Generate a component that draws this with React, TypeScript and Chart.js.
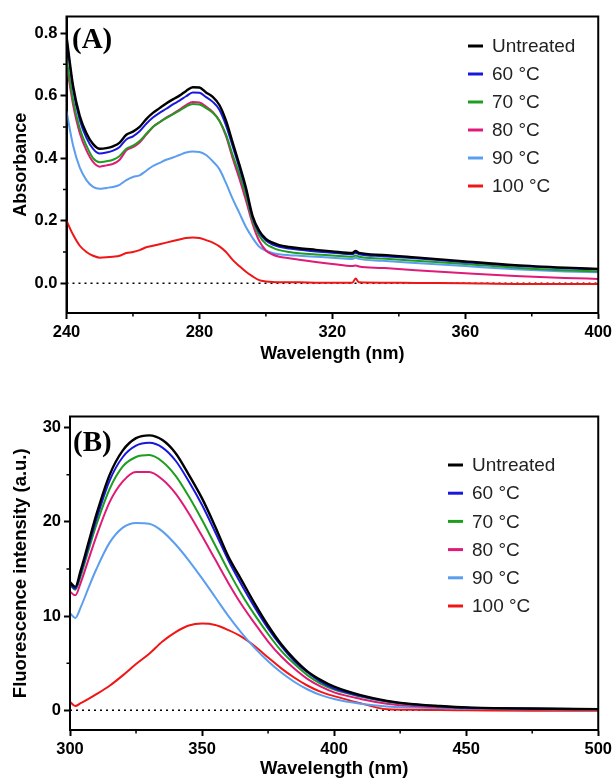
import React, { useEffect, useRef } from "react";
import { Chart, registerables } from "chart.js";
Chart.register(...registerables);

// ---------- shared series info ----------
const seriesNames = ["Untreated", "60 °C", "70 °C", "80 °C", "90 °C", "100 °C"];
const seriesColors = ["#000000", "#1818dc", "#1e9e1e", "#e01a78", "#5b9ef0", "#f01616"];

// ---------- Panel A: absorbance ----------
const wavelengthA = [240, 242, 244, 246, 248, 250, 252, 254, 256, 258, 260, 262, 264, 266, 268, 270, 272, 274, 276, 278, 280, 282, 284, 286, 288, 290, 292, 294, 296, 298, 300, 302, 304, 307, 310, 315, 320, 326, 327, 328, 335, 345, 360, 375, 390, 400];
const untreatedA = [0.79, 0.63, 0.535, 0.48, 0.445, 0.43, 0.432, 0.438, 0.45, 0.475, 0.485, 0.5, 0.525, 0.545, 0.56, 0.575, 0.588, 0.6, 0.615, 0.627, 0.626, 0.61, 0.596, 0.57, 0.52, 0.45, 0.38, 0.305, 0.215, 0.168, 0.142, 0.13, 0.122, 0.116, 0.112, 0.107, 0.102, 0.097, 0.103, 0.097, 0.091, 0.083, 0.07, 0.058, 0.05, 0.046];
const t60A = [0.78, 0.62, 0.522, 0.465, 0.43, 0.415, 0.418, 0.424, 0.436, 0.46, 0.47, 0.486, 0.51, 0.53, 0.545, 0.558, 0.572, 0.584, 0.598, 0.61, 0.609, 0.595, 0.58, 0.555, 0.505, 0.438, 0.37, 0.298, 0.21, 0.162, 0.137, 0.124, 0.117, 0.111, 0.107, 0.102, 0.098, 0.093, 0.098, 0.093, 0.087, 0.08, 0.067, 0.056, 0.048, 0.044];
const t70A = [0.72, 0.585, 0.495, 0.44, 0.4, 0.387, 0.39, 0.395, 0.407, 0.43, 0.44, 0.455, 0.478, 0.5, 0.515, 0.528, 0.54, 0.552, 0.565, 0.573, 0.572, 0.56, 0.545, 0.52, 0.475, 0.41, 0.35, 0.28, 0.2, 0.152, 0.126, 0.114, 0.106, 0.1, 0.096, 0.092, 0.089, 0.085, 0.089, 0.085, 0.079, 0.072, 0.062, 0.05, 0.042, 0.038];
const t80A = [0.7, 0.57, 0.48, 0.425, 0.388, 0.373, 0.377, 0.382, 0.395, 0.425, 0.435, 0.45, 0.475, 0.5, 0.515, 0.53, 0.542, 0.555, 0.57, 0.58, 0.578, 0.565, 0.548, 0.52, 0.47, 0.4, 0.335, 0.265, 0.19, 0.135, 0.105, 0.092, 0.085, 0.08, 0.075, 0.068, 0.062, 0.055, 0.057, 0.054, 0.049, 0.042, 0.032, 0.023, 0.017, 0.014];
const t90A = [0.55, 0.44, 0.37, 0.33, 0.308, 0.302, 0.305, 0.308, 0.315, 0.33, 0.34, 0.345, 0.36, 0.375, 0.385, 0.395, 0.402, 0.41, 0.418, 0.421, 0.42, 0.41, 0.39, 0.365, 0.32, 0.27, 0.225, 0.18, 0.145, 0.117, 0.104, 0.097, 0.093, 0.09, 0.088, 0.085, 0.082, 0.078, 0.082, 0.078, 0.072, 0.065, 0.055, 0.045, 0.038, 0.035];
const t100A = [0.2, 0.155, 0.12, 0.1, 0.088, 0.082, 0.083, 0.085, 0.088, 0.097, 0.1, 0.106, 0.115, 0.12, 0.125, 0.13, 0.135, 0.14, 0.145, 0.146, 0.145, 0.138, 0.13, 0.118, 0.1, 0.075, 0.055, 0.037, 0.022, 0.01, 0.006, 0.004, 0.003, 0.003, 0.003, 0.002, 0.002, 0.002, 0.015, 0.003, 0.002, 0.001, 0.0, -0.002, -0.002, -0.002];
const xTicksA = [240, 280, 320, 360, 400];
const xMinorA = [260, 300, 340, 380];
const yTicksA = [0, 0.2, 0.4, 0.6, 0.8];
const yMinorA = [0.1, 0.3, 0.5, 0.7];

// ---------- Panel B: fluorescence ----------
const wavelengthB = [300, 302, 304, 307, 310, 315, 320, 325, 330, 335, 340, 345, 350, 355, 360, 365, 370, 375, 380, 385, 390, 395, 400, 410, 420, 430, 440, 450, 475, 500];
const untreatedB = [13.6, 13.1, 14.8, 17.8, 20.8, 25.0, 27.6, 28.9, 29.2, 28.7, 27.3, 25.0, 22.5, 19.5, 16.3, 13.8, 11.3, 9.0, 7.0, 5.4, 4.1, 3.2, 2.5, 1.6, 1.0, 0.65, 0.45, 0.3, 0.18, 0.12];
const t60B = [13.4, 12.9, 14.5, 17.4, 20.3, 24.4, 26.9, 28.1, 28.4, 27.9, 26.5, 24.3, 21.8, 18.9, 15.9, 13.3, 10.9, 8.7, 6.8, 5.2, 4.0, 3.0, 2.3, 1.5, 0.95, 0.6, 0.42, 0.28, 0.17, 0.12];
const t70B = [13.3, 12.8, 14.2, 17.0, 19.7, 23.5, 25.9, 26.9, 27.1, 26.4, 24.9, 22.7, 20.2, 17.5, 14.8, 12.3, 10.1, 8.1, 6.3, 4.9, 3.7, 2.8, 2.2, 1.45, 0.9, 0.58, 0.4, 0.27, 0.16, 0.1];
const t80B = [12.6, 12.2, 13.5, 16.0, 18.5, 22.1, 24.3, 25.3, 25.3, 24.5, 23.0, 20.9, 18.5, 16.0, 13.5, 11.2, 9.2, 7.3, 5.7, 4.4, 3.3, 2.5, 1.9, 1.2, 0.7, 0.45, 0.32, 0.22, 0.14, 0.08];
const t90B = [10.3, 9.8, 10.9, 13.0, 15.0, 17.8, 19.4, 19.9, 19.8, 19.0, 17.6, 15.9, 14.0, 12.0, 10.0, 8.2, 6.6, 5.2, 4.0, 3.0, 2.2, 1.6, 1.2, 0.7, 0.4, 0.28, 0.2, 0.15, 0.1, 0.06];
const t100B = [0.9, 0.45, 0.75, 1.2, 1.7, 2.6, 3.7, 4.9, 6.0, 7.3, 8.3, 9.0, 9.2, 9.05, 8.5, 7.8, 6.8, 5.6, 4.45, 3.45, 2.6, 1.95, 1.5, 0.75, 0.1, 0.05, 0.02, 0.0, -0.05, -0.05];
const xTicksB = [300, 350, 400, 450, 500];
const xMinorB = [325, 375, 425, 475];
const yTicksB = [0, 10, 20, 30];
const yMinorB = [5, 15, 25];

const SANS = "'Liberation Sans', Arial, Helvetica, sans-serif";

type PanelCfg = {
  width: number;
  height: number;
  wl: number[];
  series: number[][];
  xMin: number; xMax: number; yMin: number; yMax: number;
  xTicks: number[]; xMinor: number[]; yTicks: number[]; yMinor: number[];
  yDecimals: number;
  yTitle: string;
  padding: { top: number; right: number; bottom: number; left: number };
  yWidth: number; xHeight: number;
  titleSize: number; tickSize: number;
  legendX: number; legendY: number; legendStep: number;
  label: string; labelX: number; labelY: number;
};

function makeChart(canvas: HTMLCanvasElement, c: PanelCfg) {
  const datasets: any[] = c.series.map((arr, i) => ({
    label: seriesNames[i],
    data: c.wl.map((x, k) => ({ x, y: arr[k] })),
    borderColor: seriesColors[i],
    backgroundColor: seriesColors[i],
    borderWidth: i === 0 ? 2.4 : 2,
    pointRadius: 0,
    cubicInterpolationMode: "monotone",
    fill: false,
    order: 1,
  }));
  datasets.push({
    label: "__zero",
    data: [{ x: c.xMin, y: 0 }, { x: c.xMax, y: 0 }],
    borderColor: "#000",
    borderWidth: 1.6,
    borderDash: [2, 4],
    pointRadius: 0,
    fill: false,
    order: 10,
  });

  const decor = {
    id: "decor",
    afterDraw(chart: any) {
      const { ctx, chartArea } = chart;
      const xs = chart.scales.x;
      const ys = chart.scales.y;
      ctx.save();
      // frame
      ctx.strokeStyle = "#000";
      ctx.lineWidth = 2;
      ctx.strokeRect(chartArea.left, chartArea.top, chartArea.right - chartArea.left, chartArea.bottom - chartArea.top);
      // minor ticks
      ctx.lineWidth = 1.5;
      ctx.beginPath();
      c.xMinor.forEach((v) => {
        const px = xs.getPixelForValue(v);
        ctx.moveTo(px, chartArea.bottom);
        ctx.lineTo(px, chartArea.bottom + 3.5);
      });
      c.yMinor.forEach((v) => {
        const py = ys.getPixelForValue(v);
        ctx.moveTo(chartArea.left, py);
        ctx.lineTo(chartArea.left - 3.5, py);
      });
      ctx.stroke();
      // legend
      ctx.font = `19px ${SANS}`;
      ctx.textBaseline = "middle";
      ctx.textAlign = "left";
      chart.data.datasets.forEach((ds: any, i: number) => {
        if (ds.label === "__zero") return;
        const y = c.legendY + i * c.legendStep;
        ctx.strokeStyle = ds.borderColor;
        ctx.lineWidth = 3;
        ctx.beginPath();
        ctx.moveTo(c.legendX, y);
        ctx.lineTo(c.legendX + 15, y);
        ctx.stroke();
        ctx.fillStyle = "#222";
        ctx.fillText(ds.label, c.legendX + 24, y + 1);
      });
      // panel label
      ctx.font = `bold 29px 'Liberation Serif', 'Times New Roman', serif`;
      ctx.fillStyle = "#000";
      ctx.textBaseline = "alphabetic";
      ctx.fillText(c.label, c.labelX, c.labelY);
      ctx.restore();
    },
  };

  return new Chart(canvas, {
    type: "line",
    data: { datasets },
    options: {
      responsive: false,
      animation: false,
      layout: { padding: c.padding },
      plugins: { legend: { display: false }, tooltip: { enabled: false } },
      scales: {
        x: {
          type: "linear",
          min: c.xMin,
          max: c.xMax,
          afterBuildTicks: (s: any) => { s.ticks = c.xTicks.map((v) => ({ value: v })); },
          afterFit: (s: any) => { s.height = c.xHeight; },
          border: { display: true, color: "#000", width: 2 },
          grid: { display: true, drawOnChartArea: false, drawTicks: true, tickLength: 6, color: "#000", tickWidth: 2 },
          ticks: {
            color: "#000",
            padding: 4,
            maxRotation: 0,
            font: { family: SANS, size: c.tickSize, weight: "bold" },
            callback: (v: any) => String(v),
          },
          title: {
            display: true,
            text: "Wavelength (nm)",
            color: "#000",
            padding: 0,
            font: { family: SANS, size: c.titleSize, weight: "bold" },
          },
        },
        y: {
          type: "linear",
          min: c.yMin,
          max: c.yMax,
          afterBuildTicks: (s: any) => { s.ticks = c.yTicks.map((v) => ({ value: v })); },
          afterFit: (s: any) => { s.width = c.yWidth; },
          border: { display: true, color: "#000", width: 2 },
          grid: { display: true, drawOnChartArea: false, drawTicks: true, tickLength: 6, color: "#000", tickWidth: 2 },
          ticks: {
            color: "#000",
            padding: 3,
            font: { family: SANS, size: c.tickSize, weight: "bold" },
            callback: (v: any) => Number(v).toFixed(c.yDecimals),
          },
          title: {
            display: true,
            text: c.yTitle,
            color: "#000",
            padding: 0,
            font: { family: SANS, size: c.titleSize, weight: "bold" },
          },
        },
      },
    } as any,
    plugins: [decor],
  });
}

const panelA: PanelCfg = {
  width: 616, height: 390,
  wl: wavelengthA,
  series: [untreatedA, t60A, t70A, t80A, t90A, t100A],
  xMin: 240, xMax: 400, yMin: -0.095, yMax: 0.853,
  xTicks: xTicksA, xMinor: xMinorA, yTicks: yTicksA, yMinor: yMinorA,
  yDecimals: 1,
  yTitle: "Absorbance",
  padding: { top: 16.5, right: 17, bottom: 25, left: 10 },
  yWidth: 56.5, xHeight: 52,
  titleSize: 18, tickSize: 16.5,
  legendX: 468, legendY: 46, legendStep: 28,
  label: "(A)", labelX: 72, labelY: 48,
};

const panelB: PanelCfg = {
  width: 616, height: 391,
  wl: wavelengthB,
  series: [untreatedB, t60B, t70B, t80B, t90B, t100B],
  xMin: 300, xMax: 500, yMin: -2.1, yMax: 31.2,
  xTicks: xTicksB, xMinor: xMinorB, yTicks: yTicksB, yMinor: yMinorB,
  yDecimals: 0,
  yTitle: "Fluorescence intensity (a.u.)",
  padding: { top: 26.5, right: 15, bottom: 1, left: 10 },
  yWidth: 60, xHeight: 50,
  titleSize: 18.5, tickSize: 16.5,
  legendX: 448, legendY: 75, legendStep: 28.2,
  label: "(B)", labelX: 73, labelY: 61,
};

function Panel({ cfg }: { cfg: PanelCfg }) {
  const ref = useRef<HTMLCanvasElement | null>(null);
  useEffect(() => {
    if (!ref.current) return;
    const chart = makeChart(ref.current, cfg);
    return () => chart.destroy();
  }, [cfg]);
  return (
    <canvas
      ref={ref}
      width={cfg.width}
      height={cfg.height}
      style={{ display: "block", width: cfg.width, height: cfg.height }}
    />
  );
}

export default function App() {
  return (
    <div style={{ position: "absolute", left: 0, top: 0, width: 616, height: 781, background: "#fff" }}>
      <Panel cfg={panelA} />
      <Panel cfg={panelB} />
    </div>
  );
}
